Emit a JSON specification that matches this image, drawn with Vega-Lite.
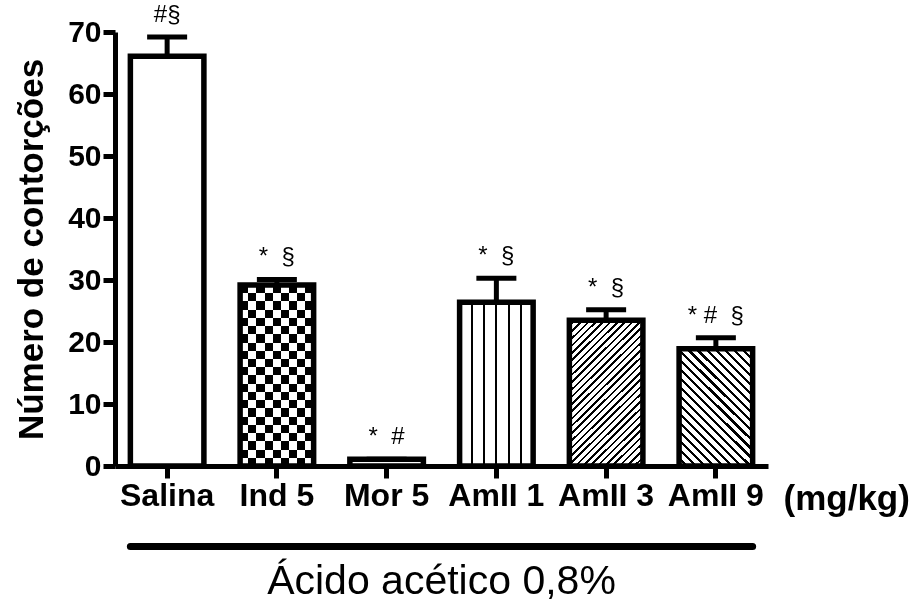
{
  "$schema": "https://vega.github.io/schema/vega-lite/v6.json",
  "autosize": {"type": "none"},
  "padding": {"left": 115, "top": 32, "right": 151, "bottom": 144},
  "width": 653,
  "height": 434,
  "background": "#ffffff",
  "view": {"stroke": null},
  "config": {"font": "Liberation Sans"},
  "title": {"text": "Ácido acético 0,8%", "orient": "bottom", "anchor": "middle", "frame": "group", "fontSize": 41, "fontWeight": "normal", "font": "Liberation Sans", "color": "#000000", "offset": 12},
  "data": {"values": [
    {"grupo": "Salina", "media": 66.1, "superior": 69.2, "sig": "#§"},
    {"grupo": "Ind 5", "media": 29.2, "superior": 30.1, "sig": "*\u00a0\u00a0§"},
    {"grupo": "Mor 5", "media": 1.1, "superior": 1.1, "sig": "*\u00a0\u00a0#"},
    {"grupo": "AmII 1", "media": 26.4, "superior": 30.3, "sig": "*\u00a0\u00a0§"},
    {"grupo": "AmII 3", "media": 23.5, "superior": 25.2, "sig": "*\u00a0\u00a0§"},
    {"grupo": "AmII 9", "media": 18.9, "superior": 20.7, "sig": "*\u00a0#\u00a0\u00a0§"}
  ]},
  "encoding": {
    "x": {"field": "grupo", "type": "nominal",
      "scale": {"domain": ["Salina", "Ind 5", "Mor 5", "AmII 1", "AmII 3", "AmII 9"], "paddingInner": 0.33, "paddingOuter": 0.14},
      "axis": {"title": "(mg/kg)", "labelAngle": 0, "labelFont": "Liberation Sans", "labelFontSize": 32, "labelFontWeight": "bold", "labelColor": "#000000", "labelPadding": 2,
        "tickSize": 12, "tickWidth": 5, "tickColor": "#000000", "domainWidth": 5, "domainColor": "#000000",
        "titleFont": "Liberation Sans", "titleFontSize": 35, "titleFontWeight": "bold", "titleColor": "#000000", "titleAlign": "left", "titleAnchor": "start", "titleBaseline": "alphabetic", "titleX": 668, "titleY": 43}}
  },
  "layer": [
    {"mark": {"type": "rule", "color": "#000000", "strokeWidth": 5},
     "encoding": {
       "y": {"field": "media", "type": "quantitative",
         "scale": {"domain": [0, 70], "nice": false},
         "axis": {"title": "Número de contorções", "values": [0, 10, 20, 30, 40, 50, 60, 70], "grid": false,
           "labelFont": "Liberation Sans", "labelFontSize": 30, "labelFontWeight": "bold", "labelColor": "#000000", "labelPadding": 2,
           "tickSize": 12, "tickWidth": 5, "tickColor": "#000000", "domainWidth": 5, "domainColor": "#000000",
           "titleFont": "Liberation Sans", "titleFontSize": 35, "titleFontWeight": "bold", "titleColor": "#000000", "titlePadding": 18}},
       "y2": {"field": "superior"}
     }},
    {"mark": {"type": "tick", "color": "#000000", "thickness": 5, "size": 40, "opacity": 1},
     "encoding": {"y": {"field": "superior", "type": "quantitative"}}},
    {"mark": {"type": "bar", "fill": "#ffffff", "strokeWidth": 0},
     "encoding": {"y": {"field": "media", "type": "quantitative"}}},
    {"transform": [{"filter": "datum.grupo === 'Ind 5'"}],
     "mark": {"type": "bar", "strokeWidth": 0, "fill": {"gradient": "linear", "x1": 0, "y1": 0, "x2": 1, "y2": 0, "stops": [
       {"offset": 0, "color": "#ffffff"}, {"offset": 0.1111, "color": "#ffffff"}, {"offset": 0.1111, "color": "#000000"}, {"offset": 0.2222, "color": "#000000"},
       {"offset": 0.2222, "color": "#ffffff"}, {"offset": 0.3333, "color": "#ffffff"}, {"offset": 0.3333, "color": "#000000"}, {"offset": 0.4444, "color": "#000000"},
       {"offset": 0.4444, "color": "#ffffff"}, {"offset": 0.5556, "color": "#ffffff"}, {"offset": 0.5556, "color": "#000000"}, {"offset": 0.6667, "color": "#000000"},
       {"offset": 0.6667, "color": "#ffffff"}, {"offset": 0.7778, "color": "#ffffff"}, {"offset": 0.7778, "color": "#000000"}, {"offset": 0.8889, "color": "#000000"},
       {"offset": 0.8889, "color": "#ffffff"}, {"offset": 1, "color": "#ffffff"}]}},
     "encoding": {"y": {"field": "media", "type": "quantitative"}}},
    {"transform": [{"filter": "datum.grupo === 'Ind 5'"}],
     "mark": {"type": "bar", "strokeWidth": 0, "blend": "difference", "fill": {"gradient": "linear", "x1": 0, "y1": 0, "x2": 0, "y2": 1, "stops": [
       {"offset": 0, "color": "#ffffff"}, {"offset": 0.0455, "color": "#ffffff"}, {"offset": 0.0455, "color": "#000000"}, {"offset": 0.0909, "color": "#000000"},
       {"offset": 0.0909, "color": "#ffffff"}, {"offset": 0.1364, "color": "#ffffff"}, {"offset": 0.1364, "color": "#000000"}, {"offset": 0.1818, "color": "#000000"},
       {"offset": 0.1818, "color": "#ffffff"}, {"offset": 0.2273, "color": "#ffffff"}, {"offset": 0.2273, "color": "#000000"}, {"offset": 0.2727, "color": "#000000"},
       {"offset": 0.2727, "color": "#ffffff"}, {"offset": 0.3182, "color": "#ffffff"}, {"offset": 0.3182, "color": "#000000"}, {"offset": 0.3636, "color": "#000000"},
       {"offset": 0.3636, "color": "#ffffff"}, {"offset": 0.4091, "color": "#ffffff"}, {"offset": 0.4091, "color": "#000000"}, {"offset": 0.4545, "color": "#000000"},
       {"offset": 0.4545, "color": "#ffffff"}, {"offset": 0.5, "color": "#ffffff"}, {"offset": 0.5, "color": "#000000"}, {"offset": 0.5455, "color": "#000000"},
       {"offset": 0.5455, "color": "#ffffff"}, {"offset": 0.5909, "color": "#ffffff"}, {"offset": 0.5909, "color": "#000000"}, {"offset": 0.6364, "color": "#000000"},
       {"offset": 0.6364, "color": "#ffffff"}, {"offset": 0.6818, "color": "#ffffff"}, {"offset": 0.6818, "color": "#000000"}, {"offset": 0.7273, "color": "#000000"},
       {"offset": 0.7273, "color": "#ffffff"}, {"offset": 0.7727, "color": "#ffffff"}, {"offset": 0.7727, "color": "#000000"}, {"offset": 0.8182, "color": "#000000"},
       {"offset": 0.8182, "color": "#ffffff"}, {"offset": 0.8636, "color": "#ffffff"}, {"offset": 0.8636, "color": "#000000"}, {"offset": 0.9091, "color": "#000000"},
       {"offset": 0.9091, "color": "#ffffff"}, {"offset": 0.9545, "color": "#ffffff"}, {"offset": 0.9545, "color": "#000000"}, {"offset": 1, "color": "#000000"}]}},
     "encoding": {"y": {"field": "media", "type": "quantitative"}}},
    {"transform": [{"filter": "datum.grupo === 'AmII 1'"}],
     "mark": {"type": "bar", "strokeWidth": 0, "fill": {"gradient": "linear", "x1": 0, "y1": 0, "x2": 1, "y2": 0, "stops": [
       {"offset": 0, "color": "#ffffff"}, {"offset": 0.153, "color": "#ffffff"}, {"offset": 0.153, "color": "#000000"}, {"offset": 0.1803, "color": "#000000"},
       {"offset": 0.1803, "color": "#ffffff"}, {"offset": 0.3197, "color": "#ffffff"}, {"offset": 0.3197, "color": "#000000"}, {"offset": 0.347, "color": "#000000"},
       {"offset": 0.347, "color": "#ffffff"}, {"offset": 0.4863, "color": "#ffffff"}, {"offset": 0.4863, "color": "#000000"}, {"offset": 0.5137, "color": "#000000"},
       {"offset": 0.5137, "color": "#ffffff"}, {"offset": 0.653, "color": "#ffffff"}, {"offset": 0.653, "color": "#000000"}, {"offset": 0.6803, "color": "#000000"},
       {"offset": 0.6803, "color": "#ffffff"}, {"offset": 0.8197, "color": "#ffffff"}, {"offset": 0.8197, "color": "#000000"}, {"offset": 0.847, "color": "#000000"},
       {"offset": 0.847, "color": "#ffffff"}, {"offset": 1, "color": "#ffffff"}]}},
     "encoding": {"y": {"field": "media", "type": "quantitative"}}},
    {"transform": [{"filter": "datum.grupo === 'AmII 3'"}],
     "mark": {"type": "bar", "strokeWidth": 0, "fill": {"gradient": "linear", "x1": 0, "y1": 0, "x2": 0.6, "y2": 1.2, "stops": [
       {"offset": 0, "color": "#ffffff"}, {"offset": 0.0217, "color": "#ffffff"}, {"offset": 0.0217, "color": "#000000"}, {"offset": 0.0333, "color": "#000000"},
       {"offset": 0.0333, "color": "#ffffff"}, {"offset": 0.055, "color": "#ffffff"}, {"offset": 0.055, "color": "#000000"}, {"offset": 0.0667, "color": "#000000"},
       {"offset": 0.0667, "color": "#ffffff"}, {"offset": 0.0883, "color": "#ffffff"}, {"offset": 0.0883, "color": "#000000"}, {"offset": 0.1, "color": "#000000"},
       {"offset": 0.1, "color": "#ffffff"}, {"offset": 0.1217, "color": "#ffffff"}, {"offset": 0.1217, "color": "#000000"}, {"offset": 0.1333, "color": "#000000"},
       {"offset": 0.1333, "color": "#ffffff"}, {"offset": 0.155, "color": "#ffffff"}, {"offset": 0.155, "color": "#000000"}, {"offset": 0.1667, "color": "#000000"},
       {"offset": 0.1667, "color": "#ffffff"}, {"offset": 0.1883, "color": "#ffffff"}, {"offset": 0.1883, "color": "#000000"}, {"offset": 0.2, "color": "#000000"},
       {"offset": 0.2, "color": "#ffffff"}, {"offset": 0.2217, "color": "#ffffff"}, {"offset": 0.2217, "color": "#000000"}, {"offset": 0.2333, "color": "#000000"},
       {"offset": 0.2333, "color": "#ffffff"}, {"offset": 0.255, "color": "#ffffff"}, {"offset": 0.255, "color": "#000000"}, {"offset": 0.2667, "color": "#000000"},
       {"offset": 0.2667, "color": "#ffffff"}, {"offset": 0.2883, "color": "#ffffff"}, {"offset": 0.2883, "color": "#000000"}, {"offset": 0.3, "color": "#000000"},
       {"offset": 0.3, "color": "#ffffff"}, {"offset": 0.3217, "color": "#ffffff"}, {"offset": 0.3217, "color": "#000000"}, {"offset": 0.3333, "color": "#000000"},
       {"offset": 0.3333, "color": "#ffffff"}, {"offset": 0.355, "color": "#ffffff"}, {"offset": 0.355, "color": "#000000"}, {"offset": 0.3667, "color": "#000000"},
       {"offset": 0.3667, "color": "#ffffff"}, {"offset": 0.3883, "color": "#ffffff"}, {"offset": 0.3883, "color": "#000000"}, {"offset": 0.4, "color": "#000000"},
       {"offset": 0.4, "color": "#ffffff"}, {"offset": 0.4217, "color": "#ffffff"}, {"offset": 0.4217, "color": "#000000"}, {"offset": 0.4333, "color": "#000000"},
       {"offset": 0.4333, "color": "#ffffff"}, {"offset": 0.455, "color": "#ffffff"}, {"offset": 0.455, "color": "#000000"}, {"offset": 0.4667, "color": "#000000"},
       {"offset": 0.4667, "color": "#ffffff"}, {"offset": 0.4883, "color": "#ffffff"}, {"offset": 0.4883, "color": "#000000"}, {"offset": 0.5, "color": "#000000"},
       {"offset": 0.5, "color": "#ffffff"}, {"offset": 0.5217, "color": "#ffffff"}, {"offset": 0.5217, "color": "#000000"}, {"offset": 0.5333, "color": "#000000"},
       {"offset": 0.5333, "color": "#ffffff"}, {"offset": 0.555, "color": "#ffffff"}, {"offset": 0.555, "color": "#000000"}, {"offset": 0.5667, "color": "#000000"},
       {"offset": 0.5667, "color": "#ffffff"}, {"offset": 0.5883, "color": "#ffffff"}, {"offset": 0.5883, "color": "#000000"}, {"offset": 0.6, "color": "#000000"},
       {"offset": 0.6, "color": "#ffffff"}, {"offset": 0.6217, "color": "#ffffff"}, {"offset": 0.6217, "color": "#000000"}, {"offset": 0.6333, "color": "#000000"},
       {"offset": 0.6333, "color": "#ffffff"}, {"offset": 0.655, "color": "#ffffff"}, {"offset": 0.655, "color": "#000000"}, {"offset": 0.6667, "color": "#000000"},
       {"offset": 0.6667, "color": "#ffffff"}, {"offset": 0.6883, "color": "#ffffff"}, {"offset": 0.6883, "color": "#000000"}, {"offset": 0.7, "color": "#000000"},
       {"offset": 0.7, "color": "#ffffff"}, {"offset": 0.7217, "color": "#ffffff"}, {"offset": 0.7217, "color": "#000000"}, {"offset": 0.7333, "color": "#000000"},
       {"offset": 0.7333, "color": "#ffffff"}, {"offset": 0.755, "color": "#ffffff"}, {"offset": 0.755, "color": "#000000"}, {"offset": 0.7667, "color": "#000000"},
       {"offset": 0.7667, "color": "#ffffff"}, {"offset": 0.7883, "color": "#ffffff"}, {"offset": 0.7883, "color": "#000000"}, {"offset": 0.8, "color": "#000000"},
       {"offset": 0.8, "color": "#ffffff"}, {"offset": 0.8217, "color": "#ffffff"}, {"offset": 0.8217, "color": "#000000"}, {"offset": 0.8333, "color": "#000000"},
       {"offset": 0.8333, "color": "#ffffff"}, {"offset": 0.855, "color": "#ffffff"}, {"offset": 0.855, "color": "#000000"}, {"offset": 0.8667, "color": "#000000"},
       {"offset": 0.8667, "color": "#ffffff"}, {"offset": 0.8883, "color": "#ffffff"}, {"offset": 0.8883, "color": "#000000"}, {"offset": 0.9, "color": "#000000"},
       {"offset": 0.9, "color": "#ffffff"}, {"offset": 0.9217, "color": "#ffffff"}, {"offset": 0.9217, "color": "#000000"}, {"offset": 0.9333, "color": "#000000"},
       {"offset": 0.9333, "color": "#ffffff"}, {"offset": 0.955, "color": "#ffffff"}, {"offset": 0.955, "color": "#000000"}, {"offset": 0.9667, "color": "#000000"},
       {"offset": 0.9667, "color": "#ffffff"}, {"offset": 0.9883, "color": "#ffffff"}, {"offset": 0.9883, "color": "#000000"}, {"offset": 1, "color": "#000000"}]}},
     "encoding": {"y": {"field": "media", "type": "quantitative"}}},
    {"transform": [{"filter": "datum.grupo === 'AmII 9'"}],
     "mark": {"type": "bar", "strokeWidth": 0, "fill": {"gradient": "linear", "x1": 0, "y1": 1, "x2": 0.729, "y2": -0.169, "stops": [
       {"offset": 0, "color": "#ffffff"}, {"offset": 0.031, "color": "#ffffff"}, {"offset": 0.031, "color": "#000000"}, {"offset": 0.0476, "color": "#000000"},
       {"offset": 0.0476, "color": "#ffffff"}, {"offset": 0.0786, "color": "#ffffff"}, {"offset": 0.0786, "color": "#000000"}, {"offset": 0.0952, "color": "#000000"},
       {"offset": 0.0952, "color": "#ffffff"}, {"offset": 0.1262, "color": "#ffffff"}, {"offset": 0.1262, "color": "#000000"}, {"offset": 0.1429, "color": "#000000"},
       {"offset": 0.1429, "color": "#ffffff"}, {"offset": 0.1738, "color": "#ffffff"}, {"offset": 0.1738, "color": "#000000"}, {"offset": 0.1905, "color": "#000000"},
       {"offset": 0.1905, "color": "#ffffff"}, {"offset": 0.2214, "color": "#ffffff"}, {"offset": 0.2214, "color": "#000000"}, {"offset": 0.2381, "color": "#000000"},
       {"offset": 0.2381, "color": "#ffffff"}, {"offset": 0.269, "color": "#ffffff"}, {"offset": 0.269, "color": "#000000"}, {"offset": 0.2857, "color": "#000000"},
       {"offset": 0.2857, "color": "#ffffff"}, {"offset": 0.3167, "color": "#ffffff"}, {"offset": 0.3167, "color": "#000000"}, {"offset": 0.3333, "color": "#000000"},
       {"offset": 0.3333, "color": "#ffffff"}, {"offset": 0.3643, "color": "#ffffff"}, {"offset": 0.3643, "color": "#000000"}, {"offset": 0.381, "color": "#000000"},
       {"offset": 0.381, "color": "#ffffff"}, {"offset": 0.4119, "color": "#ffffff"}, {"offset": 0.4119, "color": "#000000"}, {"offset": 0.4286, "color": "#000000"},
       {"offset": 0.4286, "color": "#ffffff"}, {"offset": 0.4595, "color": "#ffffff"}, {"offset": 0.4595, "color": "#000000"}, {"offset": 0.4762, "color": "#000000"},
       {"offset": 0.4762, "color": "#ffffff"}, {"offset": 0.5071, "color": "#ffffff"}, {"offset": 0.5071, "color": "#000000"}, {"offset": 0.5238, "color": "#000000"},
       {"offset": 0.5238, "color": "#ffffff"}, {"offset": 0.5548, "color": "#ffffff"}, {"offset": 0.5548, "color": "#000000"}, {"offset": 0.5714, "color": "#000000"},
       {"offset": 0.5714, "color": "#ffffff"}, {"offset": 0.6024, "color": "#ffffff"}, {"offset": 0.6024, "color": "#000000"}, {"offset": 0.619, "color": "#000000"},
       {"offset": 0.619, "color": "#ffffff"}, {"offset": 0.65, "color": "#ffffff"}, {"offset": 0.65, "color": "#000000"}, {"offset": 0.6667, "color": "#000000"},
       {"offset": 0.6667, "color": "#ffffff"}, {"offset": 0.6976, "color": "#ffffff"}, {"offset": 0.6976, "color": "#000000"}, {"offset": 0.7143, "color": "#000000"},
       {"offset": 0.7143, "color": "#ffffff"}, {"offset": 0.7452, "color": "#ffffff"}, {"offset": 0.7452, "color": "#000000"}, {"offset": 0.7619, "color": "#000000"},
       {"offset": 0.7619, "color": "#ffffff"}, {"offset": 0.7929, "color": "#ffffff"}, {"offset": 0.7929, "color": "#000000"}, {"offset": 0.8095, "color": "#000000"},
       {"offset": 0.8095, "color": "#ffffff"}, {"offset": 0.8405, "color": "#ffffff"}, {"offset": 0.8405, "color": "#000000"}, {"offset": 0.8571, "color": "#000000"},
       {"offset": 0.8571, "color": "#ffffff"}, {"offset": 0.8881, "color": "#ffffff"}, {"offset": 0.8881, "color": "#000000"}, {"offset": 0.9048, "color": "#000000"},
       {"offset": 0.9048, "color": "#ffffff"}, {"offset": 0.9357, "color": "#ffffff"}, {"offset": 0.9357, "color": "#000000"}, {"offset": 0.9524, "color": "#000000"},
       {"offset": 0.9524, "color": "#ffffff"}, {"offset": 0.9833, "color": "#ffffff"}, {"offset": 0.9833, "color": "#000000"}, {"offset": 1, "color": "#000000"}]}},
     "encoding": {"y": {"field": "media", "type": "quantitative"}}},
    {"mark": {"type": "bar", "fillOpacity": 0, "stroke": "#000000", "strokeWidth": 5.5, "strokeJoin": "miter"},
     "encoding": {"y": {"field": "media", "type": "quantitative"}}},
    {"mark": {"type": "text", "font": "Liberation Sans", "fontSize": 24, "baseline": "middle", "dy": -22, "color": "#000000"},
     "encoding": {"y": {"field": "superior", "type": "quantitative"}, "text": {"field": "sig"}}},
    {"data": {"values": [{"inicio": "Salina", "fim": "AmII 9", "nivel": -13}]},
     "mark": {"type": "rule", "color": "#000000", "strokeWidth": 7, "strokeCap": "round"},
     "encoding": {
       "x": {"field": "inicio", "type": "nominal", "bandPosition": 0, "scale": {"domain": ["Salina", "Ind 5", "Mor 5", "AmII 1", "AmII 3", "AmII 9"]}},
       "x2": {"field": "fim", "bandPosition": 1},
       "y": {"field": "nivel", "type": "quantitative"}
     }}
  ]
}
